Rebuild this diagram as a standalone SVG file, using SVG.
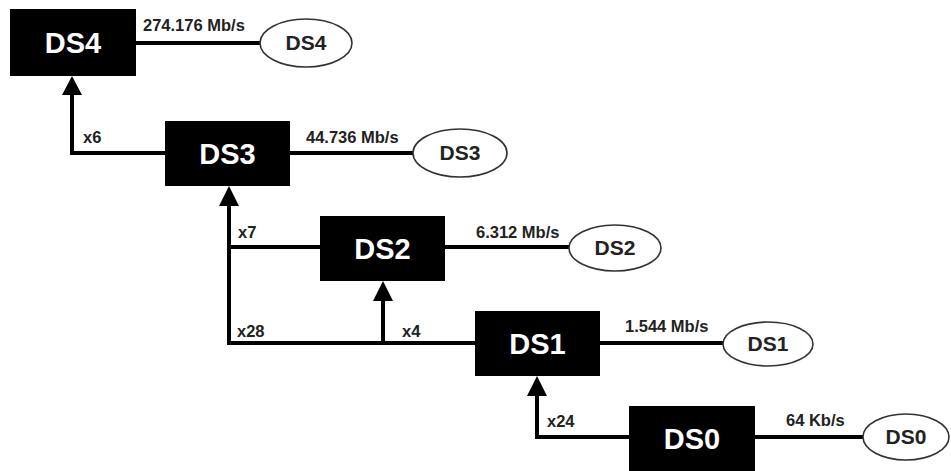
<svg xmlns="http://www.w3.org/2000/svg" width="951" height="471" viewBox="0 0 951 471">
<defs>
<style>
.box{fill:#000}
.bt{fill:#fff;font-family:"Liberation Sans",Arial,sans-serif;font-weight:bold;font-size:29px;text-anchor:middle}
.el{fill:#fff;stroke:#333;stroke-width:1.6}
.et{fill:#222;font-family:"Liberation Sans",Arial,sans-serif;font-weight:bold;font-size:21px;text-anchor:middle}
.lbl{fill:#222;font-family:"Liberation Sans",Arial,sans-serif;font-weight:bold;font-size:16.5px}
.ln{stroke:#000;stroke-width:4;fill:none}
.ah{fill:#000}
</style>
</defs>
<rect width="951" height="471" fill="#fff"/>
<g id="connectors">
<line class="ln" x1="136" y1="43" x2="260" y2="43"/>
<line class="ln" x1="290" y1="153" x2="413" y2="153"/>
<line class="ln" x1="445" y1="247" x2="569" y2="247"/>
<line class="ln" x1="600" y1="343" x2="723" y2="343"/>
<line class="ln" x1="755" y1="437" x2="863" y2="437"/>
<polyline class="ln" points="165,153 72,153 72,92"/>
<polygon class="ah" points="72,76 62,95 82,95"/>
<polyline class="ln" points="320,247 229,247"/>
<polyline class="ln" points="475,343 229,343 229,202"/>
<polygon class="ah" points="229,186 219,206 239,206"/>
<line class="ln" x1="383" y1="343" x2="383" y2="297"/>
<polygon class="ah" points="383,281 373,301 393,301"/>
<polyline class="ln" points="629,437 537,437 537,392"/>
<polygon class="ah" points="537,376 527,396 547,396"/>
<text class="lbl" x="143" y="31">274.176 Mb/s</text>
<text class="lbl" x="306" y="143">44.736 Mb/s</text>
<text class="lbl" x="476" y="238">6.312 Mb/s</text>
<text class="lbl" x="625" y="332">1.544 Mb/s</text>
<text class="lbl" x="786" y="426">64 Kb/s</text>
<text class="lbl" x="83" y="143">x6</text>
<text class="lbl" x="238" y="238">x7</text>
<text class="lbl" x="237" y="337">x28</text>
<text class="lbl" x="402" y="337">x4</text>
<text class="lbl" x="547" y="427">x24</text>
</g>
<g id="DS4">
<rect class="box" x="10" y="9" width="126" height="67"/>
<text class="bt" x="73" y="53">DS4</text>
</g>
<g id="DS4-out">
<ellipse class="el" cx="306" cy="43" rx="46" ry="24"/>
<text class="et" x="306" y="50">DS4</text>
</g>
<g id="DS3">
<rect class="box" x="165" y="121" width="125" height="65"/>
<text class="bt" x="227.5" y="164">DS3</text>
</g>
<g id="DS3-out">
<ellipse class="el" cx="460" cy="153" rx="47" ry="24"/>
<text class="et" x="460" y="160">DS3</text>
</g>
<g id="DS2">
<rect class="box" x="320" y="216" width="125" height="65"/>
<text class="bt" x="382.5" y="259">DS2</text>
</g>
<g id="DS2-out">
<ellipse class="el" cx="615" cy="248" rx="46" ry="23"/>
<text class="et" x="615" y="255">DS2</text>
</g>
<g id="DS1">
<rect class="box" x="475" y="311" width="125" height="65"/>
<text class="bt" x="537.5" y="354">DS1</text>
</g>
<g id="DS1-out">
<ellipse class="el" cx="768" cy="344" rx="45" ry="22"/>
<text class="et" x="768" y="351">DS1</text>
</g>
<g id="DS0">
<rect class="box" x="629" y="406" width="126" height="65"/>
<text class="bt" x="692" y="449">DS0</text>
</g>
<g id="DS0-out">
<ellipse class="el" cx="906" cy="437" rx="43" ry="23"/>
<text class="et" x="906" y="444">DS0</text>
</g>
</svg>
